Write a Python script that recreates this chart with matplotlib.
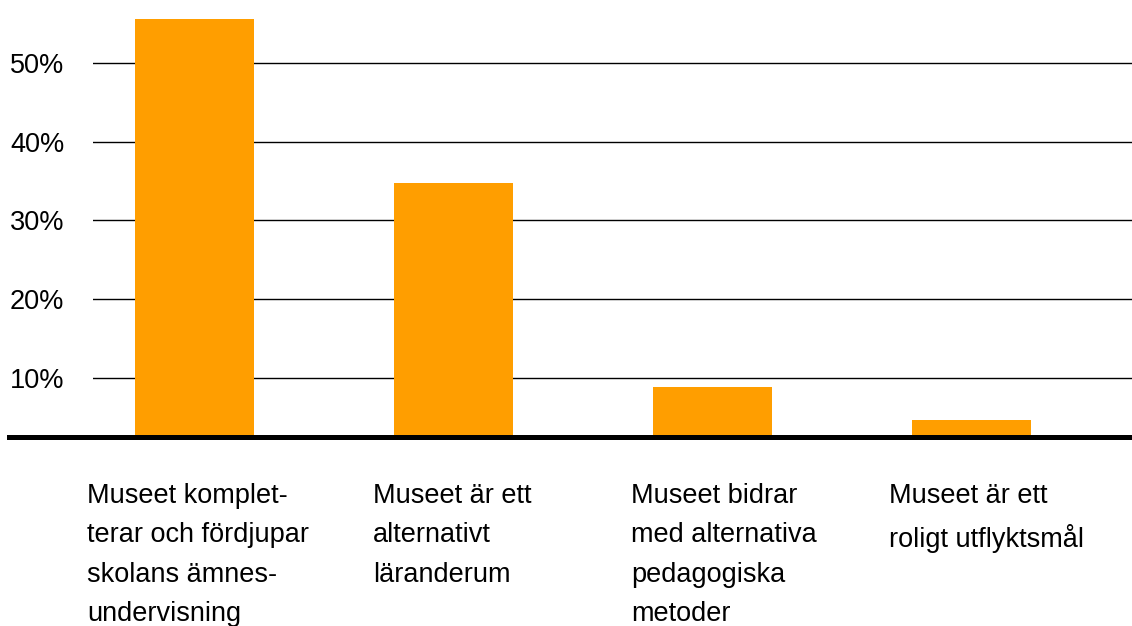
"""Bar chart: what teachers see the museum visit as (share of answers)."""

import matplotlib

matplotlib.use("Agg")
import matplotlib.pyplot as plt

categories = [
    "Museet komplet-\nterar och fördjupar\nskolans ämnes-\nundervisning",
    "Museet är ett\nalternativt\nläranderum",
    "Museet bidrar\nmed alternativa\npedagogiska\nmetoder",
    "Museet är ett\nroligt utflyktsmål",
]
shares = [55.6, 34.7, 8.8, 4.6]
tick_values = [10, 20, 30, 40, 50]
tick_labels = ["10%", "20%", "30%", "40%", "50%"]

BAR_COLOR = "#FF9E00"
W, H, DPI = 1132, 626, 100

plt.rcParams["font.family"] = ["Liberation Sans", "DejaVu Sans"]

fig = plt.figure(figsize=(W / DPI, H / DPI), dpi=DPI)
ax_left, ax_right, ax_bottom_px = 93, 1132, 437
ax = fig.add_axes([ax_left / W, (H - ax_bottom_px) / H, (ax_right - ax_left) / W, ax_bottom_px / H])

x = list(range(len(categories)))
width = 0.46
ax.bar(x, shares, width=width, color=BAR_COLOR, zorder=2)

ax.set_xlim(-0.392, 3.62)
ax.set_ylim(2.46, 58.0)

ax.set_yticks(tick_values)
ax.set_yticklabels(tick_labels, fontsize=19.5, ha="left")
ax.tick_params(axis="y", length=0, pad=83 * 0.72)
ax.set_xticks([])
ax.yaxis.grid(True, color="black", linewidth=1.0, zorder=1)
ax.set_axisbelow(True)
for spine in ax.spines.values():
    spine.set_visible(False)

# thick baseline, running out under the tick labels
ax.axhline(2.46, xmin=(9 - ax_left) / (ax_right - ax_left), xmax=1,
           color="black", linewidth=3.6, clip_on=False, zorder=3)

# category labels under the bars, left aligned
label_shift_px = [-48, -21, -22, -23]
for xi, label, shift in zip(x, categories, label_shift_px):
    ax.annotate(label, xy=(xi - width / 2, 0), xycoords=("data", "axes fraction"),
                xytext=(shift, -46), textcoords="offset pixels",
                ha="left", va="top", fontsize=19.5, linespacing=1.67,
                annotation_clip=False)

fig.savefig("out.png", dpi=DPI)
plt.close(fig)
